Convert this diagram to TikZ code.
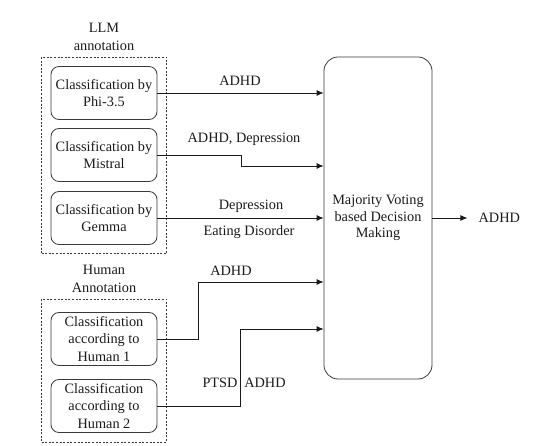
\documentclass[tikz,border=0pt]{standalone}
\usepackage{fontspec}
\setmainfont{Liberation Serif}
\usepackage{xcolor}
\usetikzlibrary{arrows.meta,positioning,calc,fit}
\definecolor{edgegray}{HTML}{3A3A3A}
\definecolor{inkblack}{HTML}{1A1A1A}
\tikzset{
  classbox/.style={draw=edgegray,line width=0.8pt,rounded corners=8pt,align=center,
    minimum width=106pt,minimum height=53pt,inner sep=1pt,text=inkblack,
    font=\fontsize{14.3}{17.5}\selectfont},
  groupbox/.style={draw=edgegray,line width=0.8pt,dash pattern=on 2pt off 1.6pt,inner sep=9pt},
  votebox/.style={draw=edgegray,line width=0.8pt,rounded corners=14pt,align=center,
    minimum width=108pt,minimum height=322pt,text=inkblack,
    font=\fontsize{14.3}{16.5}\selectfont},
  grouptitle/.style={align=center,text=inkblack,font=\fontsize{14.3}{17.5}\selectfont,inner sep=1pt},
  edgelabel/.style={text=inkblack,font=\fontsize{14.3}{15}\selectfont,inner sep=1pt},
  flowarrow/.style={-{Latex[length=7pt,width=6pt]},draw=inkblack,line width=0.8pt}
}
\begin{document}
\begin{tikzpicture}[x=1pt,y=-1pt]
  \useasboundingbox (0,0) rectangle (541,446);
  % LLM annotation
  \node[classbox] (phi) at (104,93) {Classification by\\Phi-3.5};
  \node[classbox] (mistral) at (104,155) {Classification by\\Mistral};
  \node[classbox] (gemma) at (104,218) {Classification by\\Gemma};
  \node[groupbox,fit=(phi)(gemma)] (llmgroup) {};
  \node[grouptitle,above=5pt of llmgroup] (llmtitle) {LLM\\annotation};
  % Human annotation
  \node[classbox] (hum1) at (104,339) {Classification\\according to\\Human 1};
  \node[classbox] (hum2) at (104,406) {Classification\\according to\\Human 2};
  \node[groupbox,fit=(hum1)(hum2),inner ysep=11pt,yshift=2pt] (humgroup) {};
  \node[grouptitle,above=5pt of humgroup] (humtitle) {Human\\Annotation};
  % decision
  \node[votebox] (vote) at (378,218) {Majority Voting\\based Decision\\Making};
  \node[edgelabel,right=46pt of vote,inner sep=0pt] (final) {ADHD};
  \coordinate (mistralin) at (vote.west |- 0,166);
  \coordinate (hum1in) at (vote.west |- 0,282);
  \coordinate (hum2in) at (vote.west |- 0,329);
  \draw[flowarrow] (phi.east) -- (phi.east -| vote.west);
  \draw[flowarrow] (mistral.east) -- ++(84,0) |- (mistralin);
  \draw[flowarrow] (gemma.east) -- (gemma.east -| vote.west);
  \draw[flowarrow] (hum1.east) -- ++(41,0) |- (hum1in);
  \draw[flowarrow] (hum2.east) -- ++(83,0) |- (hum2in);
  \draw[flowarrow,shorten >=11pt] (vote.east) -- (final.west);
  % labels on the connectors
  \node[edgelabel] (lphi) at (240,81) {ADHD};
  \node[edgelabel] (lmistral) at (244,139) {ADHD, Depression};
  \node[edgelabel] (lgemma) at (251,206) {Depression};
  \node[edgelabel] (lgemmab) at (249,232) {Eating Disorder};
  \node[edgelabel] (lhum1) at (231,271) {ADHD};
  \node[edgelabel] (lhum2a) at (220,383) {PTSD};
  \node[edgelabel] (lhum2b) at (265,383) {ADHD};
\end{tikzpicture}
\end{document}
